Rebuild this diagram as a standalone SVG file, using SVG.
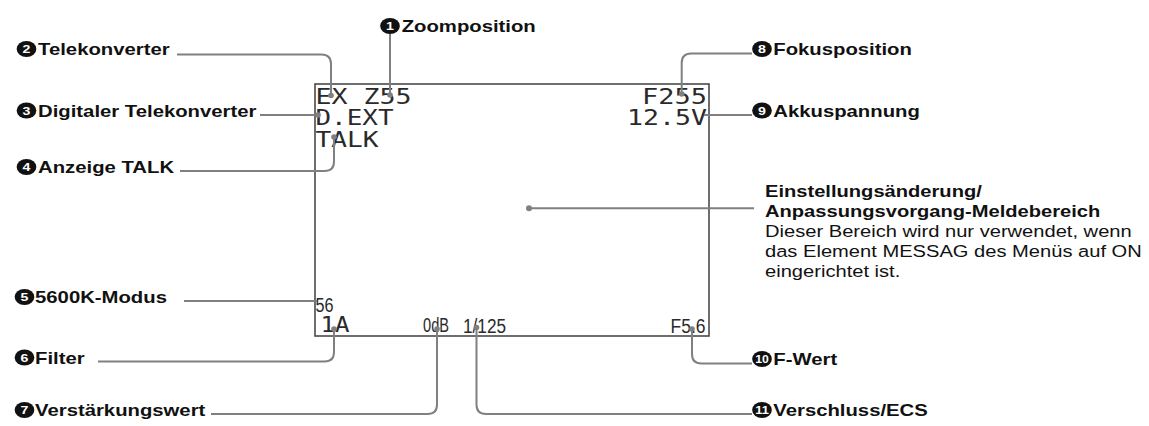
<svg xmlns="http://www.w3.org/2000/svg" width="1149" height="426" viewBox="0 0 1149 426">
  <style>
    .lbl { font-family: "Liberation Sans", Arial, sans-serif; font-weight: bold; font-size: 16.5px; fill: #111; }
    .txt { font-family: "Liberation Sans", Arial, sans-serif; font-size: 16.5px; fill: #111; }
    .num { font-family: "Liberation Sans", Arial, sans-serif; font-weight: bold; font-size: 11.5px; fill: #fff; text-anchor: middle; }
    .badge { fill: #111; }
    .conn { fill: none; stroke: #808080; stroke-width: 2; }
    .dot { fill: #808080; }
    .frame { fill: none; stroke: #4a4a4a; stroke-width: 1.6; }
    .lcd { font-family: "DejaVu Sans Mono", "Liberation Mono", monospace; font-size: 21.5px; fill: #2a2a2a; }
    .lcds { font-family: "Liberation Sans", Arial, sans-serif; font-size: 20px; fill: #2a2a2a; }
  </style>

  <!-- viewfinder screen -->
  <g id="screen">
    <rect class="frame" x="315" y="84" width="394" height="252"/>
    <text class="lcd" x="315.5" y="104" textLength="96" lengthAdjust="spacingAndGlyphs">EX Z55</text>
    <text class="lcd" x="315.5" y="125" textLength="78" lengthAdjust="spacingAndGlyphs">D.EXT</text>
    <text class="lcd" x="315.5" y="146.5" textLength="63" lengthAdjust="spacingAndGlyphs">TALK</text>
    <text class="lcd" x="642" y="104" textLength="65" lengthAdjust="spacingAndGlyphs">F255</text>
    <text class="lcd" x="627" y="125" textLength="80" lengthAdjust="spacingAndGlyphs">12.5V</text>
    <text class="lcds" x="315.5" y="311.5" textLength="18" lengthAdjust="spacingAndGlyphs">56</text>
    <text class="lcd" x="320.5" y="332" textLength="29" lengthAdjust="spacingAndGlyphs">1A</text>
    <text class="lcds" x="423" y="331.5" textLength="26" lengthAdjust="spacingAndGlyphs">0dB</text>
    <text class="lcds" x="463" y="332.5" textLength="43" lengthAdjust="spacingAndGlyphs">1/125</text>
    <text class="lcds" x="670.5" y="332.5" textLength="35" lengthAdjust="spacingAndGlyphs">F5.6</text>
  </g>

  <!-- leader lines -->
  <g id="connectors">
    <path class="conn" d="M390,34 V95"/>
    <circle class="dot" cx="390" cy="95" r="2.8"/>
    <path class="conn" d="M177,54.5 H321.5 Q331,54.5 331,64 V95.5"/>
    <circle class="dot" cx="331" cy="95.5" r="2.8"/>
    <path class="conn" d="M260,115 H318"/>
    <circle class="dot" cx="318" cy="115" r="2.8"/>
    <path class="conn" d="M180,171 H324.5 Q334,171 334,161.5 V137"/>
    <circle class="dot" cx="334" cy="137" r="2.8"/>
    <path class="conn" d="M184,301 H317"/>
    <path class="conn" d="M98,361.5 H324.5 Q334,361.5 334,352 V329"/>
    <circle class="dot" cx="334" cy="329" r="2.8"/>
    <path class="conn" d="M211,414 H427.5 Q437,414 437,404.5 V329"/>
    <circle class="dot" cx="437" cy="329" r="2.8"/>
    <path class="conn" d="M476.5,327.5 V404.5 Q476.5,414 486,414 H752"/>
    <circle class="dot" cx="476.5" cy="327.5" r="2.8"/>
    <path class="conn" d="M692,329 V354 Q692,363.5 701.5,363.5 H752"/>
    <circle class="dot" cx="692" cy="329" r="2.8"/>
    <path class="conn" d="M704,115 H752"/>
    <path class="conn" d="M681.7,94 V63 Q681.7,53.5 691.2,53.5 H752"/>
    <circle class="dot" cx="681.7" cy="94" r="2.8"/>
    <path class="conn" d="M529,208.3 H754"/>
    <circle class="dot" cx="529" cy="208.3" r="3"/>
  </g>

  <!-- numbered callouts -->
  <g id="label-1" transform="translate(390,26) scale(1.23,1)">
    <circle class="badge" r="8"/><text class="num" y="4">1</text>
    <text class="lbl" x="9.5" y="6">Zoomposition</text>
  </g>
  <g id="label-2" transform="translate(26.5,49) scale(1.23,1)">
    <circle class="badge" r="8"/><text class="num" y="4">2</text>
    <text class="lbl" x="9.4" y="6">Telekonverter</text>
  </g>
  <g id="label-3" transform="translate(26.5,110.5) scale(1.23,1)">
    <circle class="badge" r="8"/><text class="num" y="4">3</text>
    <text class="lbl" x="9.4" y="6">Digitaler Telekonverter</text>
  </g>
  <g id="label-4" transform="translate(26.5,167) scale(1.23,1)">
    <circle class="badge" r="8"/><text class="num" y="4">4</text>
    <text class="lbl" x="9.4" y="6">Anzeige TALK</text>
  </g>
  <g id="label-5" transform="translate(24.5,297) scale(1.23,1)">
    <circle class="badge" r="8"/><text class="num" y="4">5</text>
    <text class="lbl" x="8.6" y="6">5600K-Modus</text>
  </g>
  <g id="label-6" transform="translate(24.5,357.5) scale(1.23,1)">
    <circle class="badge" r="8"/><text class="num" y="4">6</text>
    <text class="lbl" x="8.6" y="6">Filter</text>
  </g>
  <g id="label-7" transform="translate(24.5,410) scale(1.23,1)">
    <circle class="badge" r="8"/><text class="num" y="4">7</text>
    <text class="lbl" x="8.6" y="6">Verstärkungswert</text>
  </g>
  <g id="label-8" transform="translate(762,49) scale(1.23,1)">
    <circle class="badge" r="8"/><text class="num" y="4">8</text>
    <text class="lbl" x="9.2" y="6">Fokusposition</text>
  </g>
  <g id="label-9" transform="translate(762,110.5) scale(1.23,1)">
    <circle class="badge" r="8"/><text class="num" y="4">9</text>
    <text class="lbl" x="9.2" y="6">Akkuspannung</text>
  </g>
  <g id="label-10" transform="translate(762,359) scale(1.23,1)">
    <circle class="badge" r="8"/><text class="num" y="4" textLength="11" lengthAdjust="spacingAndGlyphs" x="-5.5" style="text-anchor:start">10</text>
    <text class="lbl" x="9.2" y="6">F-Wert</text>
  </g>
  <g id="label-11" transform="translate(762,410) scale(1.23,1)">
    <circle class="badge" r="8"/><text class="num" y="4" textLength="11" lengthAdjust="spacingAndGlyphs" x="-5.5" style="text-anchor:start">11</text>
    <text class="lbl" x="9.2" y="6">Verschluss/ECS</text>
  </g>

  <!-- message area description -->
  <g id="message-area" transform="translate(765,0) scale(1.22,1)">
    <text class="lbl" x="0" y="197">Einstellungsänderung/</text>
    <text class="lbl" x="0" y="217">Anpassungsvorgang-Meldebereich</text>
    <text class="txt" x="0" y="237">Dieser Bereich wird nur verwendet, wenn</text>
    <text class="txt" x="0" y="257">das Element MESSAG des Menüs auf ON</text>
    <text class="txt" x="0" y="277">eingerichtet ist.</text>
  </g>
</svg>
